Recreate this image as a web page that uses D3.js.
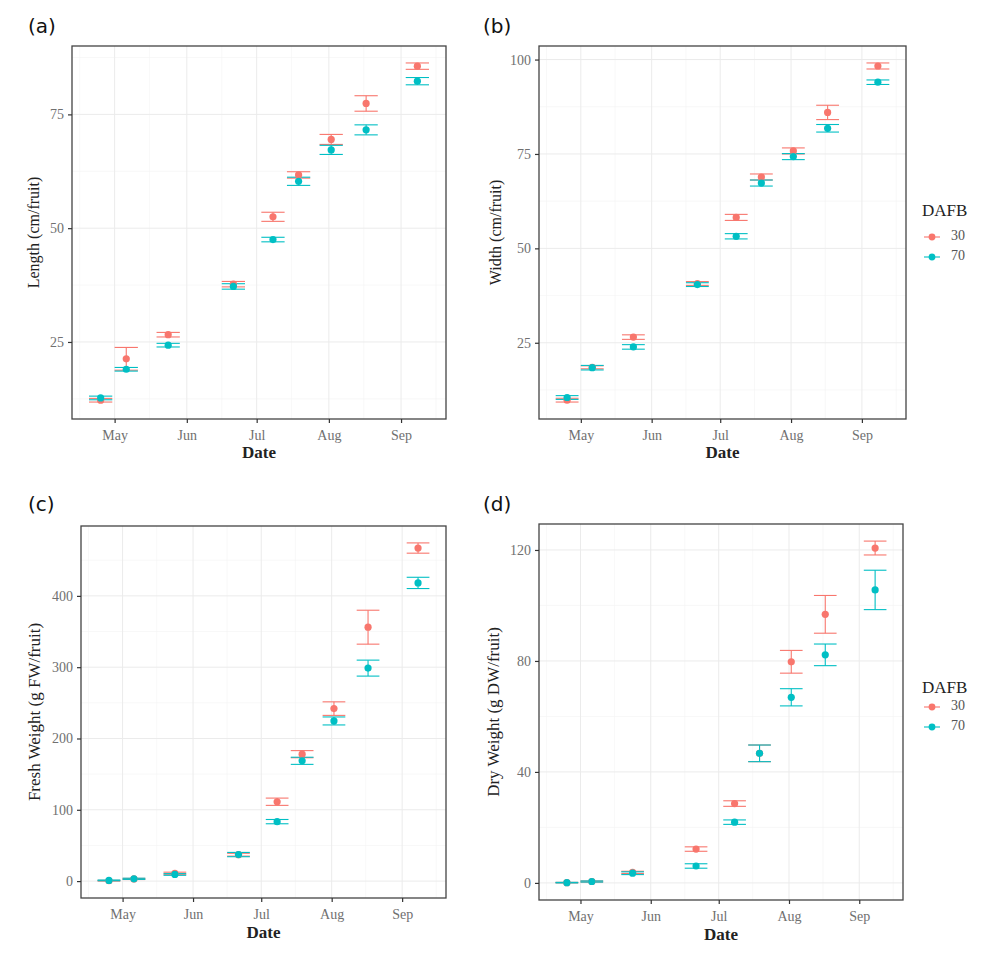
<!DOCTYPE html>
<html><head><meta charset="utf-8">
<script src="https://cdnjs.cloudflare.com/ajax/libs/d3/7.8.5/d3.min.js"></script>
<style>body{margin:0;background:#fff}svg{display:block}</style>
</head><body><svg id="c" width="999" height="960"></svg>
<script>
const dates = ["2020-04-25","2020-05-06","2020-05-24","2020-06-21","2020-07-08","2020-07-19","2020-08-02","2020-08-17","2020-09-08"];
const groups = ["30","70"];
const monthTicks = ["2020-05-01","2020-06-01","2020-07-01","2020-08-01","2020-09-01"];
const minorX = ["2020-04-16","2020-05-16","2020-06-16","2020-07-16","2020-08-16","2020-09-16"];

const length30 = [12.2, 21.3, 26.6, 37.7, 52.5, 61.7, 69.5, 77.4, 85.6];
const length30se = [0.4, 2.5, 0.5, 0.6, 1.0, 0.7, 1.1, 1.7, 0.7];
const length70 = [12.7, 19.0, 24.3, 37.2, 47.5, 60.3, 67.2, 71.6, 82.3];
const length70se = [0.4, 0.4, 0.4, 0.6, 0.5, 0.9, 1.0, 1.1, 0.8];

const width30 = [9.8, 18.5, 26.5, 40.7, 58.2, 68.9, 75.8, 86.0, 98.3];
const width30se = [0.5, 0.4, 0.6, 0.5, 0.8, 0.8, 0.8, 1.9, 0.8];
const width70 = [10.5, 18.4, 23.9, 40.4, 53.2, 67.3, 74.3, 81.8, 94.0];
const width70se = [0.5, 0.6, 0.6, 0.5, 0.7, 0.8, 0.8, 1.0, 0.6];

const fresh30 = [0.5, 3.0, 11.0, 37.0, 111.3, 178.0, 241.9, 356.1, 467.1];
const fresh30se = [0.5, 0.8, 1.5, 2.0, 5.1, 5.0, 9.5, 23.8, 7.2];
const fresh70 = [1.0, 3.2, 9.3, 37.2, 83.4, 168.7, 224.6, 298.7, 418.2];
const fresh70se = [0.5, 0.8, 1.2, 3.0, 3.0, 5.0, 5.6, 11.2, 7.9];

const dry30 = [0.1, 0.5, 3.8, 12.2, 28.6, 46.7, 79.7, 96.8, 120.7];
const dry30se = [0.1, 0.2, 0.4, 0.8, 1.0, 3.0, 4.1, 6.8, 2.5];
const dry70 = [0.1, 0.5, 3.5, 6.1, 21.9, 46.7, 66.9, 82.2, 105.6];
const dry70se = [0.1, 0.2, 0.5, 0.8, 0.8, 3.0, 3.1, 3.9, 7.1];

const ticksA = [25, 50, 75];
const ticksB = [25, 50, 75, 100];
const ticksC = [0, 100, 200, 300, 400];
const ticksD = [0, 40, 80, 120];

const colors = {"30": "#F8766D", "70": "#00BFC4"};
const parse = d3.timeParse("%Y-%m-%d");
const DAY = 86400000;
const serif = "'Liberation Serif','Times New Roman',serif";

const svg = d3.select("#c");

function panel(cfg) {
  const {L, R, T, B, m30, s30, m70, s70, yTicks, ylab, tag, tagX, tagY, ylabX, tickFs, titleFs, dateY, tickLabY} = cfg;
  const dts = dates.map(parse);
  const lo0 = d3.min(dts).getTime() - 5 * DAY, hi0 = d3.max(dts).getTime() + 5 * DAY;
  const xp = (hi0 - lo0) * 0.05;
  const x = d3.scaleTime().domain([new Date(lo0 - xp), new Date(hi0 + xp)]).range([L, R]);
  const all = [];
  m30.forEach((v, i) => { all.push(v - s30[i], v + s30[i]); });
  m70.forEach((v, i) => { all.push(v - s70[i], v + s70[i]); });
  const ylo = d3.min(all), yhi = d3.max(all), yp = (yhi - ylo) * 0.05;
  const y = d3.scaleLinear().domain([ylo - yp, yhi + yp]).range([B, T]);

  const g = svg.append("g");
  const step = yTicks[1] - yTicks[0];
  const minorY = [];
  for (let v = yTicks[0] - step / 2; v <= yhi + yp; v += step) if (v >= ylo - yp) minorY.push(v);
  g.selectAll(".my").data(minorY).join("line")
    .attr("x1", L).attr("x2", R).attr("y1", d => y(d)).attr("y2", d => y(d))
    .attr("stroke", "#f3f3f3").attr("stroke-width", 0.6);
  g.selectAll(".mx").data(minorX.map(parse).filter(d => d >= x.domain()[0] && d <= x.domain()[1])).join("line")
    .attr("y1", T).attr("y2", B).attr("x1", d => x(d)).attr("x2", d => x(d))
    .attr("stroke", "#f3f3f3").attr("stroke-width", 0.6);
  g.selectAll(".gy").data(yTicks).join("line")
    .attr("x1", L).attr("x2", R).attr("y1", d => y(d)).attr("y2", d => y(d))
    .attr("stroke", "#ebebeb").attr("stroke-width", 1);
  g.selectAll(".gx").data(monthTicks.map(parse)).join("line")
    .attr("y1", T).attr("y2", B).attr("x1", d => x(d)).attr("x2", d => x(d))
    .attr("stroke", "#ebebeb").attr("stroke-width", 1);

  const series = [{k: "30", m: m30, s: s30}, {k: "70", m: m70, s: s70}];
  const capHalf = 5 * DAY;
  series.forEach(sr => {
    const eg = g.append("g").attr("stroke", colors[sr.k]).attr("stroke-width", 1.1);
    sr.m.forEach((v, i) => {
      const d = dts[i];
      const x0 = x(new Date(d.getTime() - capHalf)), x1 = x(new Date(d.getTime() + capHalf));
      const yt = y(v + sr.s[i]), yb = y(v - sr.s[i]);
      eg.append("line").attr("x1", x(d)).attr("x2", x(d)).attr("y1", yt).attr("y2", yb);
      eg.append("line").attr("x1", x0).attr("x2", x1).attr("y1", yt).attr("y2", yt);
      eg.append("line").attr("x1", x0).attr("x2", x1).attr("y1", yb).attr("y2", yb);
    });
  });
  series.forEach(sr => {
    g.append("g").selectAll("circle").data(sr.m).join("circle")
      .attr("cx", (v, i) => x(dts[i])).attr("cy", v => y(v)).attr("r", 3.6)
      .attr("fill", colors[sr.k]);
  });
  g.append("rect").attr("x", L).attr("y", T).attr("width", R - L).attr("height", B - T)
    .attr("fill", "none").attr("stroke", "#444").attr("stroke-width", 1.3);

  const xa = g.append("g").attr("transform", `translate(0,${B})`)
    .call(d3.axisBottom(x).tickValues(monthTicks.map(parse)).tickFormat(d3.timeFormat("%b")).tickSize(4).tickPadding(4));
  xa.select(".domain").remove();
  xa.selectAll("line").attr("stroke", "#333").attr("stroke-width", 1.2);
  xa.selectAll("text").attr("fill", "#707070").attr("font-family", serif).attr("font-size", tickFs)
    .attr("y", tickLabY - B).attr("dy", "0.35em");
  const ya = g.append("g").attr("transform", `translate(${L},0)`)
    .call(d3.axisLeft(y).tickValues(yTicks).tickSize(4).tickPadding(4));
  ya.select(".domain").remove();
  ya.selectAll("line").attr("stroke", "#333").attr("stroke-width", 1.2);
  ya.selectAll("text").attr("fill", "#707070").attr("font-family", serif).attr("font-size", tickFs);

  g.append("text").attr("x", (L + R) / 2).attr("y", dateY).attr("text-anchor", "middle")
    .attr("dominant-baseline", "middle").attr("font-family", serif).attr("font-weight", "bold")
    .attr("font-size", 17).attr("fill", "#222").text("Date");
  g.append("text").attr("transform", `translate(${ylabX},${(T + B) / 2}) rotate(-90)`)
    .attr("text-anchor", "middle").attr("dominant-baseline", "middle").attr("font-family", serif)
    .attr("font-size", titleFs).attr("fill", "#222").text(ylab);
  g.append("text").attr("x", tagX).attr("y", tagY).attr("dominant-baseline", "middle")
    .attr("font-family", "'DejaVu Sans',sans-serif").attr("font-size", 20).attr("fill", "#111").text(tag);
}

function legend(x0, yTitle, y30, y70) {
  const g = svg.append("g");
  g.append("text").attr("x", x0).attr("y", yTitle).attr("dominant-baseline", "middle")
    .attr("font-family", serif).attr("font-size", 17).attr("fill", "#222").text("DAFB");
  [[groups[0], y30], [groups[1], y70]].forEach(([k, yy]) => {
    g.append("line").attr("x1", x0 + 2).attr("x2", x0 + 18).attr("y1", yy).attr("y2", yy)
      .attr("stroke", colors[k]).attr("stroke-width", 1.1);
    g.append("circle").attr("cx", x0 + 10).attr("cy", yy).attr("r", 3.4).attr("fill", colors[k]);
    g.append("text").attr("x", x0 + 29).attr("y", yy).attr("dominant-baseline", "middle")
      .attr("font-family", serif).attr("font-size", 14).attr("fill", "#555").text(k);
  });
}

panel({L: 72, R: 446, T: 46, B: 419, m30: length30, s30: length30se, m70: length70, s70: length70se,
  yTicks: ticksA, ylab: "Length (cm/fruit)", tag: "(a)", tagX: 28, tagY: 27, ylabX: 35, tickFs: 14, titleFs: 16,
  dateY: 454, tickLabY: 435});
panel({L: 539, R: 906, T: 46, B: 419, m30: width30, s30: width30se, m70: width70, s70: width70se,
  yTicks: ticksB, ylab: "Width (cm/fruit)", tag: "(b)", tagX: 483, tagY: 27, ylabX: 497, tickFs: 14, titleFs: 16,
  dateY: 454, tickLabY: 435});
panel({L: 81, R: 446, T: 526, B: 898, m30: fresh30, s30: fresh30se, m70: fresh70, s70: fresh70se,
  yTicks: ticksC, ylab: "Fresh Weight (g FW/fruit)", tag: "(c)", tagX: 28, tagY: 505, ylabX: 36, tickFs: 14, titleFs: 17,
  dateY: 934, tickLabY: 914});
panel({L: 539, R: 903, T: 524, B: 900, m30: dry30, s30: dry30se, m70: dry70, s70: dry70se,
  yTicks: ticksD, ylab: "Dry Weight (g DW/fruit)", tag: "(d)", tagX: 483, tagY: 505, ylabX: 495, tickFs: 14, titleFs: 17,
  dateY: 936, tickLabY: 916});
legend(922, 212, 237, 257);
legend(922, 689, 707, 727);
</script></body></html>
